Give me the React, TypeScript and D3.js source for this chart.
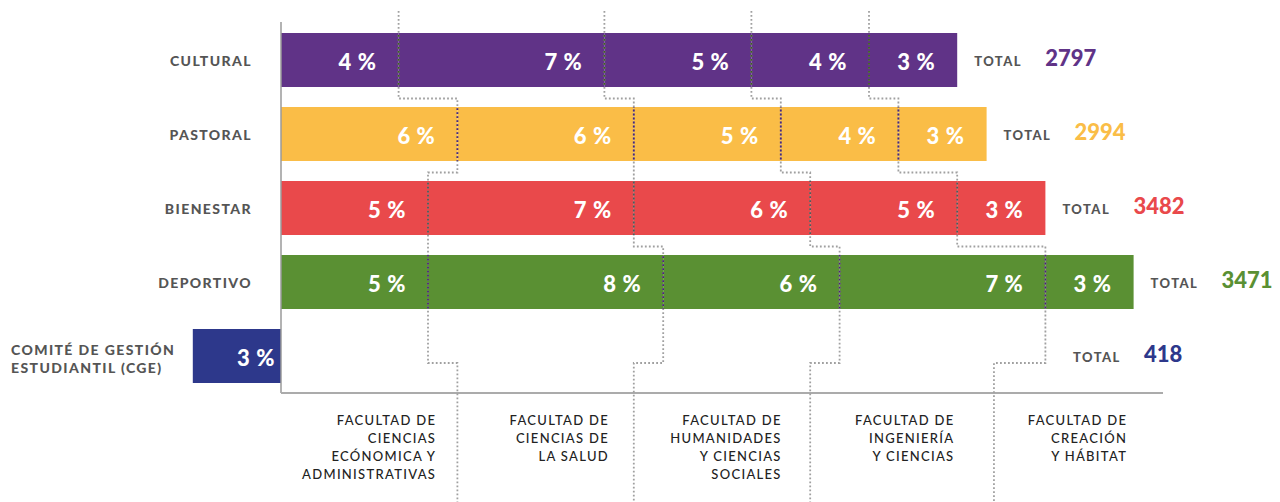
import React from "react";
import * as d3 from "d3";

const rowNames = ["CULTURAL", "PASTORAL", "BIENESTAR", "DEPORTIVO", "CGE"];
const rowLabelLines = [["CULTURAL"], ["PASTORAL"], ["BIENESTAR"], ["DEPORTIVO"], ["COMITÉ DE GESTIÓN", "ESTUDIANTIL (CGE)"]];
const culturalPct = [4, 7, 5, 4, 3];
const pastoralPct = [6, 6, 5, 4, 3];
const bienestarPct = [5, 7, 6, 5, 3];
const deportivoPct = [5, 8, 6, 7, 3];
const cgePct = [-3];
const totals = [2797, 2994, 3482, 3471, 418];
const rowColors = ["#603387", "#FABD47", "#E9494B", "#5A9033", "#2D388B"];
const dotInside = ["#3d5c22", "#4b2676", "#555555", "#4b2676"];
const facultyLabels = [
  ["FACULTAD DE", "CIENCIAS", "ECÓNOMICA Y", "ADMINISTRATIVAS"],
  ["FACULTAD DE", "CIENCIAS DE", "LA SALUD"],
  ["FACULTAD DE", "HUMANIDADES", "Y CIENCIAS", "SOCIALES"],
  ["FACULTAD DE", "INGENIERÍA", "Y CIENCIAS"],
  ["FACULTAD DE", "CREACIÓN", "Y HÁBITAT"],
];
const bottomBoundaries = [6, 12, 18, 24.25];

const W = 1280;
const H = 502;
const FONT = "Lato, 'Open Sans', sans-serif";

export default function App() {
  const rows = [culturalPct, pastoralPct, bienestarPct, deportivoPct, cgePct];
  const x = d3.scaleLinear().domain([0, 30]).range([281, 1163]);
  const y = d3
    .scaleBand<string>()
    .domain(rowNames)
    .range([23, 393])
    .paddingInner(20 / 74)
    .paddingOuter(10 / 74);
  const bw = y.bandwidth();

  const segs = rows.map((vals) => {
    let acc = 0;
    return vals.map((v) => {
      const a = acc;
      acc += v;
      return { v, x0: Math.min(a, acc), x1: Math.max(a, acc) };
    });
  });

  const cum = rows.map((vals) => {
    const c: number[] = [];
    let acc = 0;
    vals.forEach((v) => {
      acc += v;
      c.push(acc);
    });
    return c;
  });

  const gapY = (i: number) => (y(rowNames[i])! + bw + y(rowNames[i + 1])!) / 2 + 1.5;
  const cgeCenter = y(rowNames[4])! + bw / 2;

  const dotPaths = [0, 1, 2, 3].map((j) => {
    const p = d3.path();
    p.moveTo(x(cum[0][j]), 11);
    p.lineTo(x(cum[0][j]), gapY(0));
    p.lineTo(x(cum[1][j]), gapY(0));
    p.lineTo(x(cum[1][j]), gapY(1));
    p.lineTo(x(cum[2][j]), gapY(1));
    p.lineTo(x(cum[2][j]), gapY(2));
    p.lineTo(x(cum[3][j]), gapY(2));
    p.lineTo(x(cum[3][j]), cgeCenter + 7);
    p.lineTo(x(bottomBoundaries[j]), cgeCenter + 7);
    p.lineTo(x(bottomBoundaries[j]), H);
    return p.toString();
  });

  const labelRight = (i: number) => x(5.28) + i * 172.75;

  return (
    <svg
      width={W}
      height={H}
      style={{ position: "absolute", left: 0, top: 0, background: "#fff", fontFamily: FONT }}
    >
      <defs>
        {rowNames.slice(0, 4).map((r, i) => (
          <clipPath id={`clip${i}`} key={r}>
            <rect x={x(0)} y={y(r)} width={x(cum[i][cum[i].length - 1]) - x(0)} height={bw} />
          </clipPath>
        ))}
      </defs>

      {/* bars */}
      {rows.map((vals, i) => (
        <g key={rowNames[i]}>
          {segs[i].map((s, k) => (
            <rect
              key={k}
              x={x(s.x0)}
              y={y(rowNames[i])}
              width={x(s.x1) - x(s.x0)}
              height={bw}
              fill={rowColors[i]}
            />
          ))}
        </g>
      ))}

      {/* axes */}
      <line x1={x(0)} x2={x(0)} y1={22} y2={393} stroke="#9a9a9a" strokeWidth={1.5} />
      <line x1={x(0)} x2={x(30)} y1={393} y2={393} stroke="#ababab" strokeWidth={2} />

      {/* dotted connectors */}
      {dotPaths.map((d, j) => (
        <path
          key={j}
          d={d}
          fill="none"
          stroke="#a0a0a0"
          strokeWidth={1.8}
          strokeDasharray="1.8 2.2"
        />
      ))}
      {rowNames.slice(0, 4).map((r, i) => (
        <g key={r} clipPath={`url(#clip${i})`}>
          {dotPaths.map((d, j) => (
            <path
              key={j}
              d={d}
              fill="none"
              stroke={dotInside[i]}
              strokeWidth={1.8}
              strokeDasharray="1.8 2.2"
            />
          ))}
        </g>
      ))}

      {/* percent labels */}
      {rows.map((vals, i) =>
        segs[i].map((s, k) => {
          const neg = s.v < 0;
          const ex = neg ? x(s.x1) - 6 : x(s.x1) - 22;
          return (
            <text
              key={`${i}-${k}`}
              x={ex}
              y={y(rowNames[i])! + bw / 2 + 9.5}
              textAnchor="end"
              fill="#fff"
              fontWeight={900}
              fontSize={22}
              letterSpacing={0.6}
            >
              {`${Math.abs(s.v)} %`}
            </text>
          );
        })
      )}

      {/* row labels */}
      {rowLabelLines.map((lines, i) => {
        const cy = y(rowNames[i])! + bw / 2;
        if (lines.length === 1) {
          return (
            <text
              key={i}
              x={x(0) - 29}
              y={cy + 6}
              textAnchor="end"
              fill="#555555"
              fontWeight={900}
              fontSize={14}
              letterSpacing={1.4}
            >
              {lines[0]}
            </text>
          );
        }
        return (
          <text key={i} x={11} y={cy - 1} fill="#555555" fontWeight={900} fontSize={14} letterSpacing={1.4}>
            {lines.map((l, k) => (
              <tspan key={k} x={11} dy={k === 0 ? 0 : 18}>
                {l}
              </tspan>
            ))}
          </text>
        );
      })}

      {/* totals */}
      {totals.map((t, i) => {
        const cy = y(rowNames[i])! + bw / 2;
        const end = cum[i][cum[i].length - 1];
        const tx = end > 0 ? x(end) + 17 : x(30) - 90;
        return (
          <g key={i}>
            <text x={tx} y={cy + 6} fill="#555555" fontWeight={900} fontSize={13} letterSpacing={1.4}>
              TOTAL
            </text>
            <text x={tx + 71} y={cy + 6} fill={rowColors[i]} fontWeight={900} fontSize={22}>
              {t}
            </text>
          </g>
        );
      })}

      {/* faculty labels */}
      {facultyLabels.map((lines, i) => (
        <text
          key={i}
          x={labelRight(i)}
          y={424.5}
          textAnchor="end"
          fill="#222222"
          fontWeight={500}
          fontSize={13}
          letterSpacing={1.3}
        >
          {lines.map((l, k) => (
            <tspan key={k} x={labelRight(i)} dy={k === 0 ? 0 : 18}>
              {l}
            </tspan>
          ))}
        </text>
      ))}
    </svg>
  );
}
